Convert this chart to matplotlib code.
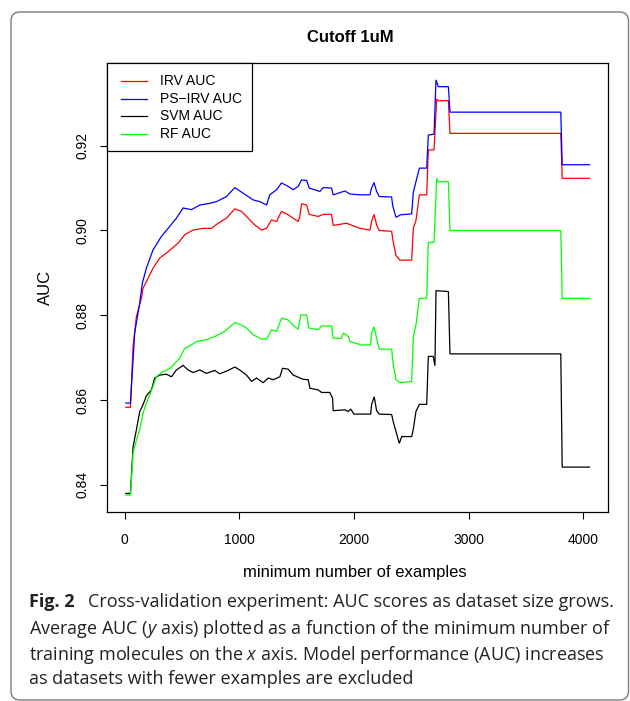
import matplotlib
matplotlib.use("Agg")
import matplotlib.pyplot as plt
from matplotlib.patches import FancyBboxPatch, Rectangle
from matplotlib.lines import Line2D

# IRV AUC
irv_x = [10, 50, 73, 102, 146, 160, 204, 247, 306, 379, 466, 524, 597, 684, 757, 815, 888,
         961, 1019, 1063, 1135, 1194, 1238, 1281, 1325, 1368, 1426, 1470, 1514, 1528, 1543,
         1587, 1610, 1689, 1732, 1805, 1819, 1936, 2052, 2140, 2154, 2175, 2198, 2221, 2329,
         2343, 2367, 2402, 2504, 2518, 2541, 2571, 2635, 2649, 2699, 2722, 2736, 2824, 2838,
         3805, 3817, 4055]
irv_y = [0.8583, 0.8583, 0.8726, 0.8797, 0.8840, 0.8864, 0.8887, 0.8911, 0.8935, 0.8950,
         0.8970, 0.8990, 0.9001, 0.9005, 0.9005, 0.9017, 0.9029, 0.9051, 0.9045, 0.9033,
         0.9013, 0.9001, 0.9005, 0.9025, 0.9021, 0.9045, 0.9037, 0.9029, 0.9021, 0.9033,
         0.9063, 0.9060, 0.9038, 0.9033, 0.9038, 0.9038, 0.9012, 0.9017, 0.9005, 0.9001,
         0.9021, 0.9038, 0.9013, 0.9000, 0.8998, 0.8973, 0.8941, 0.8930, 0.8930, 0.9005,
         0.9023, 0.9084, 0.9084, 0.9190, 0.9190, 0.9310, 0.9306, 0.9306, 0.9229, 0.9229,
         0.9123, 0.9123]

# PS-IRV AUC
psirv_x = [10, 50, 87, 131, 154, 189, 247, 320, 379, 451, 509, 582, 655, 742, 801, 888, 961,
           1033, 1121, 1179, 1238, 1266, 1325, 1368, 1426, 1470, 1514, 1543, 1587, 1610, 1703,
           1732, 1805, 1819, 1921, 1965, 2052, 2140, 2154, 2175, 2198, 2221, 2329, 2338, 2367,
           2408, 2504, 2518, 2541, 2571, 2635, 2649, 2699, 2716, 2736, 2824, 2838, 3805, 3817,
           4055]
psirv_y = [0.8593, 0.8593, 0.8758, 0.8829, 0.8876, 0.8911, 0.8954, 0.8986, 0.9005, 0.9029,
           0.9053, 0.9049, 0.9060, 0.9064, 0.9068, 0.9080, 0.9101, 0.9088, 0.9072, 0.9068,
           0.9060, 0.9084, 0.9096, 0.9112, 0.9104, 0.9096, 0.9104, 0.9119, 0.9118, 0.9100,
           0.9092, 0.9101, 0.9100, 0.9084, 0.9093, 0.9086, 0.9084, 0.9084, 0.9100, 0.9113,
           0.9092, 0.9080, 0.9079, 0.9059, 0.9031, 0.9037, 0.9039, 0.9090, 0.9115, 0.9147,
           0.9147, 0.9225, 0.9227, 0.9355, 0.9339, 0.9339, 0.9279, 0.9279, 0.9155, 0.9155]

# SVM AUC
svm_x = [10, 50, 73, 102, 131, 160, 189, 233, 262, 306, 364, 408, 451, 509, 553, 597, 655,
         713, 786, 830, 902, 961, 1004, 1063, 1107, 1150, 1208, 1252, 1295, 1354, 1377, 1426,
         1470, 1514, 1557, 1601, 1616, 1689, 1718, 1790, 1814, 1819, 1921, 1951, 1971, 2000,
         2146, 2154, 2177, 2198, 2221, 2329, 2343, 2367, 2396, 2417, 2504, 2518, 2541, 2571,
         2635, 2649, 2692, 2707, 2716, 2824, 2838, 3805, 3817, 4055]
svm_y = [0.8380, 0.8380, 0.8490, 0.8530, 0.8573, 0.8589, 0.8610, 0.8624, 0.8652, 0.8659,
         0.8661, 0.8655, 0.8671, 0.8682, 0.8671, 0.8665, 0.8671, 0.8663, 0.8670, 0.8662,
         0.8670, 0.8678, 0.8671, 0.8659, 0.8644, 0.8652, 0.8641, 0.8652, 0.8648, 0.8655,
         0.8675, 0.8673, 0.8659, 0.8654, 0.8649, 0.8648, 0.8628, 0.8624, 0.8618, 0.8618,
         0.8604, 0.8575, 0.8577, 0.8573, 0.8579, 0.8567, 0.8567, 0.8589, 0.8608, 0.8575,
         0.8567, 0.8566, 0.8549, 0.8526, 0.8498, 0.8514, 0.8514, 0.8531, 0.8573, 0.8590,
         0.8590, 0.8703, 0.8703, 0.8681, 0.8858, 0.8856, 0.8709, 0.8709, 0.8442, 0.8442]

# RF AUC
rf_x = [10, 50, 73, 102, 131, 160, 189, 218, 247, 277, 320, 364, 408, 480, 524, 582, 626,
        713, 786, 873, 961, 1019, 1063, 1121, 1194, 1238, 1281, 1325, 1368, 1426, 1470, 1514,
        1537, 1587, 1607, 1689, 1718, 1805, 1819, 1892, 1907, 1951, 1965, 2067, 2146, 2154,
        2175, 2198, 2221, 2329, 2343, 2367, 2402, 2504, 2518, 2541, 2571, 2635, 2649, 2699,
        2722, 2736, 2824, 2838, 3805, 3817, 4055]
rf_y = [0.8376, 0.8376, 0.8475, 0.8506, 0.8530, 0.8569, 0.8593, 0.8612, 0.8632, 0.8655,
        0.8665, 0.8670, 0.8678, 0.8699, 0.8722, 0.8730, 0.8738, 0.8742, 0.8750, 0.8762,
        0.8783, 0.8777, 0.8770, 0.8754, 0.8744, 0.8744, 0.8766, 0.8762, 0.8793, 0.8789,
        0.8777, 0.8767, 0.8801, 0.8801, 0.8770, 0.8766, 0.8775, 0.8775, 0.8746, 0.8746,
        0.8758, 0.8750, 0.8738, 0.8730, 0.8730, 0.8758, 0.8773, 0.8746, 0.8720, 0.8720,
        0.8684, 0.8648, 0.8641, 0.8644, 0.8748, 0.8777, 0.8840, 0.8840, 0.8972, 0.8972,
        0.9123, 0.9115, 0.9115, 0.9000, 0.9000, 0.8840, 0.8840]

series_labels = ["IRV AUC", "PS\u2212IRV AUC", "SVM AUC", "RF AUC"]
series_colors = ["#ff0000", "#0000ff", "#000000", "#00ff00"]

x_ticks = [0, 1000, 2000, 3000, 4000]
y_ticks = [0.84, 0.86, 0.88, 0.90, 0.92]

W, H = 630, 701
plt.rcParams["font.family"] = ["Liberation Sans", "DejaVu Sans"]
plt.rcParams["mathtext.fontset"] = "custom"
plt.rcParams["mathtext.rm"] = "Open Sans"
plt.rcParams["mathtext.it"] = "Open Sans:italic"


def fx(px):
    return px / W


def fy(py):
    return 1 - py / H


fig = plt.figure(figsize=(W / 100, H / 100), dpi=100)
fig.set_facecolor("white")

# rounded frame around the figure panel
frame = FancyBboxPatch((11 / 100, (H - 700) / 100), (628.5 - 11) / 100, (700 - 12) / 100,
                       boxstyle="round,pad=0,rounding_size=0.09",
                       transform=fig.dpi_scale_trans, facecolor="none",
                       edgecolor="#7a7a7a", linewidth=1.0)
fig.patches.append(frame)

ax = fig.add_axes([fx(107.3), fy(511.7), fx(608) - fx(107.3), fy(63.3) - fy(511.7)])

all_x = [irv_x, psirv_x, svm_x, rf_x]
all_y = [irv_y, psirv_y, svm_y, rf_y]
for xs, ys, c in zip(all_x, all_y, series_colors):
    ax.plot(xs, ys, color=c, linewidth=0.9, solid_joinstyle="miter")

# R-style 4% padding
xmin = min(min(v) for v in all_x)
xmax = max(max(v) for v in all_x)
ymin = min(min(v) for v in all_y)
ymax = max(max(v) for v in all_y)
xr, yr = xmax - xmin, ymax - ymin
ax.set_xlim(xmin - 0.04 * xr, xmax + 0.04 * xr)
ax.set_ylim(ymin - 0.04 * yr, ymax + 0.04 * yr)

ax.set_xticks(x_ticks)
ax.set_xticklabels([f"{v:d}" for v in x_ticks])
ax.set_yticks(y_ticks)
ax.set_yticklabels([f"{v:.2f}" for v in y_ticks], rotation=90, va="center")
ax.tick_params(axis="both", direction="out", length=5.2, width=0.8, labelsize=10, color="black")
ax.tick_params(axis="x", pad=9.9)
ax.tick_params(axis="y", pad=7.5)
for s in ax.spines.values():
    s.set_linewidth(0.9)
    s.set_color("black")

# legend box drawn R-style at the top-left corner
leg_box = Rectangle((fx(107.3), fy(150.7)), fx(251.7) - fx(107.3), fy(63.3) - fy(150.7),
                    transform=fig.transFigure, facecolor="white", edgecolor="black",
                    linewidth=0.9, zorder=5)
fig.add_artist(leg_box)
rows = [81, 98.7, 116.3, 134]
for lab, c, ry in zip(series_labels, series_colors, rows):
    fig.add_artist(Line2D([fx(120.7), fx(146.7)], [fy(ry), fy(ry)], color=c,
                          linewidth=0.9, transform=fig.transFigure, zorder=6))
    fig.text(fx(160), fy(ry), lab, fontsize=10, ha="left", va="center", zorder=6)

fig.text(fx(350), fy(37), "Cutoff 1uM", fontsize=12, fontweight="bold", ha="center", va="center")
fig.text(fx(355), fy(573), "minimum number of examples", fontsize=12, ha="center", va="center")
fig.text(fx(45.7), fy(287.5), "AUC", fontsize=12, rotation=90, ha="center", va="center")

# caption
cap_font = ["Open Sans", "DejaVu Sans"]
cap_size = 13.0
fig.text(fx(29.3), fy(600), "Fig. 2", family=cap_font, fontsize=cap_size, fontweight="bold",
         color="#222222", ha="left", va="center_baseline")
cap_lines = [
    (88, 600, "Cross-validation experiment: AUC scores as dataset size grows."),
    (29.3, 626, "Average AUC ($y$ axis) plotted as a function of the minimum number of"),
    (29.3, 651.7, "training molecules on the $x$ axis. Model performance (AUC) increases"),
    (29.3, 676.7, "as datasets with fewer examples are excluded"),
]
for cx, cy, txt in cap_lines:
    fig.text(fx(cx), fy(cy), txt, family=cap_font, fontsize=cap_size, color="#222222",
             ha="left", va="center_baseline")

fig.savefig("out.png", dpi=100, facecolor=fig.get_facecolor())
plt.close(fig)
